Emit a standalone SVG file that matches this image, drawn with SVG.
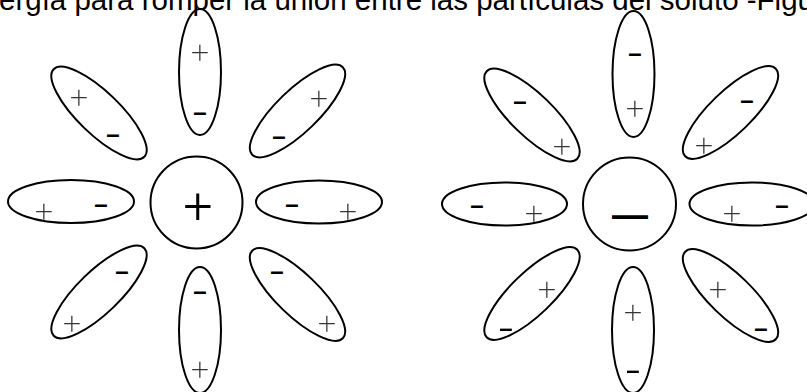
<svg xmlns="http://www.w3.org/2000/svg" width="807" height="392" viewBox="0 0 807 392">
<style>
.o{fill:none;stroke:#000;stroke-width:2}
.p{font-family:Roboto,"Liberation Sans",sans-serif;font-weight:200;font-size:32px;fill:#333;text-anchor:middle;dominant-baseline:central;opacity:0.99;will-change:transform}
.m{font-family:"Liberation Sans",Arial,sans-serif;font-weight:bold;font-size:24px;fill:#000;text-anchor:middle;dominant-baseline:central}
.P{font-family:Roboto,"Liberation Sans",sans-serif;font-weight:300;font-size:52px;fill:#000;text-anchor:middle;dominant-baseline:central}
.M{font-family:"Liberation Sans",Arial,sans-serif;font-weight:bold;font-size:36px;fill:#000;text-anchor:middle;dominant-baseline:central}
.t{font-family:"Liberation Sans",Arial,sans-serif;font-size:29.5px;fill:#000}
</style>
<rect width="807" height="392" fill="#fff"/>
<g id="connectors"/>
<text class="t" x="-1" y="10">ergía para romper la unión entre las partículas del soluto -Figu</text>

<g id="cation">
<g id="c-center"><circle class="o" cx="196.5" cy="202.5" r="46"/><text class="P" x="198" y="206">+</text></g>
<g id="c-top"><ellipse class="o" cx="200" cy="72" rx="21" ry="63"/><text class="p" x="200" y="52">+</text><text class="m" x="200" y="111">–</text></g>
<g id="c-ul"><ellipse class="o" cx="99" cy="113" rx="63" ry="21" transform="rotate(44 99 113)"/><text class="p" x="79" y="97">+</text><text class="m" x="113" y="133">–</text></g>
<g id="c-ur"><ellipse class="o" cx="297.5" cy="111" rx="63" ry="21" transform="rotate(-44 297.5 111)"/><text class="p" x="319" y="98">+</text><text class="m" x="279" y="135">–</text></g>
<g id="c-left"><ellipse class="o" cx="71" cy="201.5" rx="63" ry="21.5"/><text class="p" x="44" y="211">+</text><text class="m" x="101" y="203">–</text></g>
<g id="c-right"><ellipse class="o" cx="319" cy="202" rx="63" ry="21.5"/><text class="m" x="292" y="203">–</text><text class="p" x="348" y="211">+</text></g>
<g id="c-ll"><ellipse class="o" cx="99" cy="292" rx="63" ry="21" transform="rotate(-44 99 292)"/><text class="m" x="122" y="270">–</text><text class="p" x="72" y="323">+</text></g>
<g id="c-bottom"><ellipse class="o" cx="200" cy="330" rx="21" ry="63"/><text class="m" x="200" y="290">–</text><text class="p" x="200" y="369">+</text></g>
<g id="c-lr"><ellipse class="o" cx="297.5" cy="294.5" rx="63" ry="21" transform="rotate(44 297.5 294.5)"/><text class="m" x="277" y="270">–</text><text class="p" x="327" y="323">+</text></g>
</g>

<g id="anion">
<g id="a-center"><circle class="o" cx="629.5" cy="204" r="46.5"/><text class="M" x="630" y="214">—</text></g>
<g id="a-top"><ellipse class="o" cx="633.5" cy="74" rx="21" ry="63"/><text class="m" x="635" y="52">–</text><text class="p" x="635" y="108">+</text></g>
<g id="a-ul"><ellipse class="o" cx="532" cy="115" rx="63" ry="21" transform="rotate(44 532 115)"/><text class="m" x="520" y="100">–</text><text class="p" x="562" y="146">+</text></g>
<g id="a-ur"><ellipse class="o" cx="730.5" cy="112.5" rx="63" ry="21" transform="rotate(-44 730.5 112.5)"/><text class="m" x="747" y="99">–</text><text class="p" x="704" y="145">+</text></g>
<g id="a-left"><ellipse class="o" cx="504.5" cy="204" rx="62.5" ry="21.5"/><text class="m" x="477" y="204">–</text><text class="p" x="534" y="213">+</text></g>
<g id="a-right"><ellipse class="o" cx="752" cy="204" rx="62.5" ry="21.5"/><text class="p" x="732" y="213">+</text><text class="m" x="782" y="204">–</text></g>
<g id="a-ll"><ellipse class="o" cx="532" cy="293.5" rx="63" ry="21" transform="rotate(-44 532 293.5)"/><text class="p" x="547" y="289">+</text><text class="m" x="506" y="327">–</text></g>
<g id="a-bottom"><ellipse class="o" cx="633" cy="330" rx="21" ry="63"/><text class="p" x="633" y="312">+</text><text class="m" x="633" y="369">–</text></g>
<g id="a-lr"><ellipse class="o" cx="730.5" cy="295.5" rx="63" ry="21" transform="rotate(44 730.5 295.5)"/><text class="p" x="718" y="289">+</text><text class="m" x="761" y="327">–</text></g>
</g>
</svg>
